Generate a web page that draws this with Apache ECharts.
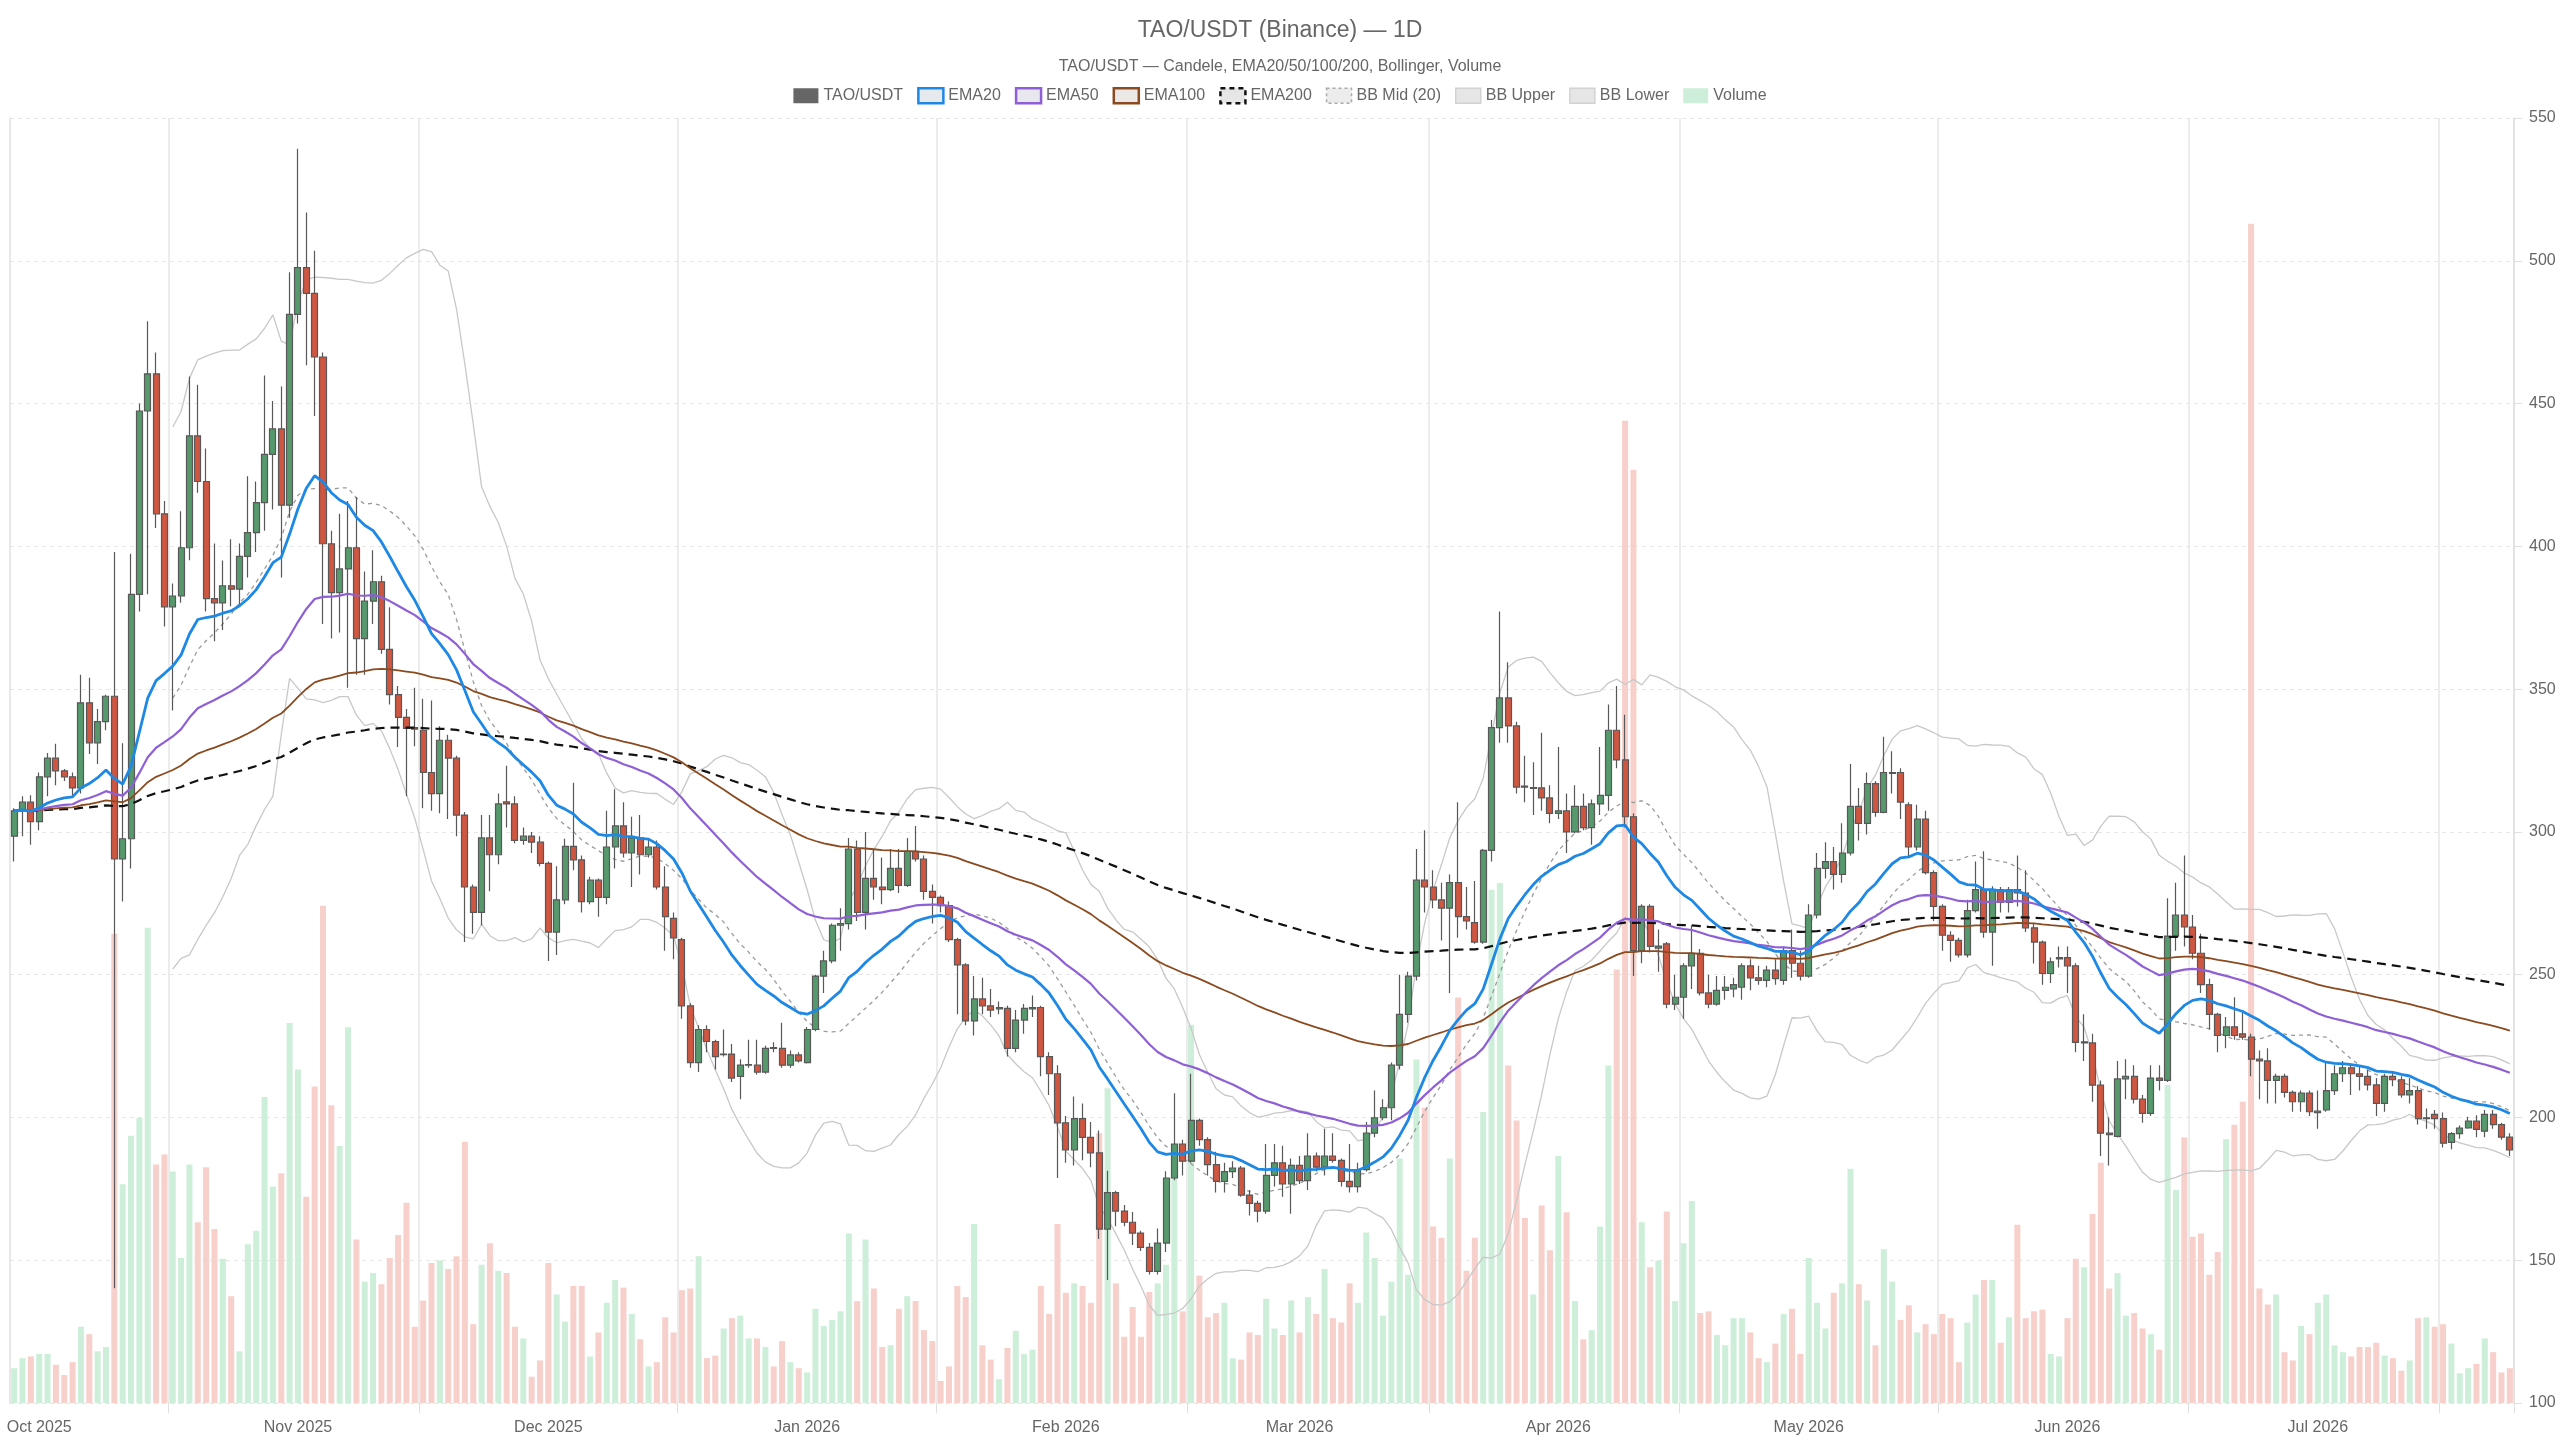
<!DOCTYPE html>
<html>
<head>
<meta charset="utf-8">
<title>TAO/USDT (Binance) — 1D</title>
<script src="https://cdn.jsdelivr.net/npm/echarts@6.0.0/dist/echarts.min.js"></script>
<style>
  html, body { margin: 0; padding: 0; background: #fff; }
  #chart { width: 2560px; height: 1440px; }
</style>
</head>
<body>
<div id="chart"></div>
<script>
// daily candles, 2025-09-28 .. 2026-07-24
var startDay = '2025-09-28';
var dayCount = 300;
var monthNames = ['Jan', 'Feb', 'Mar', 'Apr', 'May', 'Jun', 'Jul', 'Aug', 'Sep', 'Oct', 'Nov', 'Dec'];
// vertical grid lines / ticks sit on these days
var splitDays = ['2025-10-17', '2025-11-16', '2025-12-17', '2026-01-17', '2026-02-16',
                 '2026-03-17', '2026-04-16', '2026-05-17', '2026-06-16', '2026-07-16'];

var opens = [
298.5,307.4,310.4,303.6,319.3,325.8,321.4,319.3,315.4,345.2,
331.2,338.6,347.5,290.5,297.6,383.2,447.4,460.4,411.4,378.8,
382.6,399.5,438.7,422.7,381.7,380.2,386.2,385.0,396.5,404.8,
415.3,432.2,441.1,414.4,481.2,497.6,488.6,466.3,400.9,383.8,
392.1,399.5,367.7,380.8,387.6,363.9,348.1,340.1,336.5,335.6,
320.8,313.4,332.1,325.8,305.9,280.7,271.8,297.9,292.0,310.5,
309.8,297.0,298.5,296.4,289.0,264.9,276.2,294.9,290.2,275.6,
283.1,277.1,294.7,302.1,292.6,297.9,292.0,294.7,280.7,269.7,
262.3,239.1,219.2,230.8,226.6,222.0,222.2,214.4,218.3,218.3,
215.9,224.5,224.2,218.3,221.9,219.2,230.8,249.5,254.8,267.3,
267.9,294.0,271.8,283.7,280.7,279.8,287.2,281.3,293.2,290.5,
279.2,277.1,274.2,262.3,253.4,233.8,241.5,239.1,238.0,238.2,
224.2,234.1,238.0,238.5,221.3,215.3,198.1,188.6,199.6,193.0,
187.6,160.9,173.7,167.2,163.3,159.5,154.5,146.1,156.0,178.8,
190.7,184.7,199.0,192.2,183.5,177.6,181.0,182.3,172.8,169.9,
167.2,179.7,184.1,176.7,183.2,177.9,186.5,182.6,186.5,185.0,
177.6,175.8,181.7,194.5,199.9,203.4,218.3,236.1,249.5,283.1,
280.7,276.2,273.3,282.2,270.3,268.2,261.4,293.5,336.5,346.9,
337.1,316.0,315.2,315.4,311.9,306.5,307.4,300.0,308.9,301.5,
309.8,312.8,335.6,325.2,305.3,258.4,273.9,259.3,260.8,239.7,
242.1,253.1,257.5,243.6,239.7,244.5,245.0,245.6,253.1,248.9,
248.0,251.6,248.0,258.4,254.0,249.5,270.9,287.2,289.6,285.1,
292.6,308.9,303.0,316.9,306.8,320.5,320.8,309.5,294.7,304.5,
285.7,273.9,263.8,262.0,256.9,272.4,279.8,264.9,279.8,275.3,
279.8,278.6,266.4,261.4,250.4,255.5,256.0,253.1,226.1,226.1,
211.3,194.5,193.4,213.5,214.4,206.4,201.4,213.8,213.0,263.5,
270.9,266.7,257.5,246.5,236.1,228.7,231.7,229.3,228.1,220.4,
219.8,213.0,214.4,208.8,205.5,208.5,201.7,202.6,209.4,215.3,
217.4,215.3,214.4,211.4,204.9,214.4,213.2,207.9,209.4,199.6,
201.1,199.6,191.3,194.3,196.3,198.7,195.2,201.1,197.5,193.1
];
var closes = [
307.4,310.4,303.6,319.3,325.8,321.4,319.3,315.4,345.2,331.2,
338.6,347.5,290.5,297.6,383.2,447.4,460.4,411.4,378.8,382.6,
399.5,438.7,422.7,381.7,380.2,386.2,385.0,396.5,404.8,415.3,
432.2,441.1,414.4,481.2,497.6,488.6,466.3,400.9,383.8,392.1,
399.5,367.7,380.8,387.6,363.9,348.1,340.1,336.2,336.0,320.8,
313.4,332.1,325.8,305.9,280.7,271.8,297.9,292.0,309.8,309.8,
297.0,298.5,296.4,289.0,264.9,276.2,294.9,290.2,275.6,283.1,
277.1,294.7,302.1,292.6,297.9,292.0,294.7,280.7,270.3,262.9,
239.1,219.2,230.8,226.6,221.3,222.2,213.8,218.3,218.5,215.9,
224.2,224.2,218.3,221.9,219.8,230.8,249.5,254.8,267.3,267.9,
294.0,271.8,283.7,280.7,279.8,287.2,281.3,293.2,290.5,279.2,
277.1,274.2,262.3,253.4,233.8,241.5,239.1,237.6,238.5,224.2,
234.1,238.2,238.5,221.3,215.3,198.1,188.6,199.6,193.0,187.6,
160.9,173.7,167.2,163.3,159.5,154.5,146.1,156.0,178.8,190.7,
184.7,199.0,192.2,183.5,177.6,181.0,182.3,172.8,169.9,167.2,
179.7,184.1,176.7,183.2,177.9,186.5,182.6,186.5,185.0,177.6,
175.8,181.7,194.5,199.9,203.4,218.3,236.1,249.5,283.1,280.7,
276.2,273.3,282.2,270.3,268.8,261.4,293.5,336.5,346.9,337.1,
315.7,315.7,315.5,311.9,306.5,307.4,300.0,308.9,301.5,309.8,
312.8,335.6,325.2,305.3,258.4,273.9,259.9,260.0,239.7,242.1,
253.1,257.5,243.6,239.7,244.5,245.6,246.5,253.1,248.9,248.0,
251.6,248.6,258.4,254.0,249.5,270.9,287.2,289.6,285.1,292.6,
308.9,303.0,316.9,306.8,320.8,320.8,310.4,294.7,304.5,285.7,
273.9,263.8,262.0,256.9,272.4,279.8,264.9,279.8,275.3,279.8,
278.6,266.4,261.4,250.4,254.5,256.0,253.1,226.3,226.5,211.3,
194.5,194.0,213.5,214.4,206.4,201.4,213.8,213.0,263.5,270.9,
266.7,257.5,246.5,236.1,228.7,231.7,228.7,228.1,220.4,219.8,
213.0,214.4,208.8,205.5,208.5,202.0,202.2,209.4,215.3,217.4,
215.3,214.4,211.4,204.9,214.4,213.2,207.9,209.4,199.6,199.9,
199.6,191.0,194.3,196.3,198.7,195.8,201.1,197.5,193.1,188.6
];
var lows = [
289.6,298.5,295.5,300.6,312.5,316.3,317.8,312.5,313.4,327.3,
323.8,335.6,140.2,275.6,287.2,377.2,383.2,406.4,371.9,342.5,
380.2,395.1,418.8,377.2,366.8,370.7,379.0,379.6,389.1,398.0,
405.5,412.9,389.1,410.0,478.0,463.4,445.6,372.8,367.7,369.8,
350.5,355.0,355.0,372.8,362.4,344.6,329.7,312.5,330.0,308.3,
307.4,306.5,304.5,298.5,261.4,264.3,267.3,279.2,288.7,301.5,
296.0,295.5,292.6,288.0,254.8,256.9,274.7,286.6,271.8,274.7,
270.3,274.7,287.2,291.0,280.7,285.1,291.0,279.8,258.4,255.4,
234.6,217.4,215.9,222.8,216.8,221.3,212.4,206.4,217.4,215.0,
215.3,222.8,217.4,217.4,219.2,218.9,230.2,243.6,254.0,258.4,
265.8,268.8,265.8,276.2,274.7,279.2,278.6,280.7,289.6,276.2,
267.9,271.8,261.4,236.1,232.3,228.7,236.1,235.2,236.1,221.3,
222.8,229.3,235.2,214.4,207.9,178.8,184.1,183.2,185.0,182.6,
157.4,143.1,161.9,161.9,155.3,153.2,145.0,145.0,152.9,178.0,
179.7,184.1,190.1,179.7,173.7,173.7,178.8,172.2,165.7,163.3,
166.3,175.8,172.2,166.3,176.7,174.6,181.1,179.7,184.1,175.8,
173.7,173.7,181.1,193.1,199.0,199.0,216.8,233.2,248.0,271.8,
273.3,262.0,243.6,262.9,265.8,260.8,260.8,289.6,331.2,331.2,
313.4,310.4,305.9,307.4,303.0,304.5,292.6,299.5,300.6,295.5,
305.9,307.4,322.3,301.5,249.5,254.0,257.8,251.0,238.2,237.6,
234.6,245.0,242.7,238.2,239.1,241.2,242.1,241.2,244.5,246.5,
245.6,246.5,246.5,248.9,248.0,248.9,269.7,283.7,279.8,282.2,
291.7,297.0,299.1,305.3,306.5,313.4,304.5,291.0,293.5,285.1,
268.8,258.4,254.5,256.0,256.0,271.8,262.9,253.1,271.8,271.8,
273.9,264.9,253.9,246.5,247.1,252.5,243.6,222.8,219.8,205.5,
186.5,183.2,193.0,206.4,204.9,198.1,200.5,209.4,212.4,258.4,
259.9,255.4,243.6,230.8,222.8,224.2,227.2,227.2,214.4,206.4,
204.9,204.9,207.0,202.0,202.0,200.5,196.0,202.0,207.9,212.4,
207.9,209.4,209.4,200.5,202.0,210.9,206.9,204.9,197.5,196.0,
196.0,189.5,188.9,192.5,196.0,193.1,193.1,196.0,192.2,186.5
];
var highs = [
308.3,312.5,312.8,320.8,327.6,330.9,322.0,320.8,355.0,354.0,
343.0,348.0,398.0,331.0,397.4,450.0,478.8,467.9,415.9,387.0,
412.3,459.5,456.6,434.3,401.0,395.0,402.5,401.0,424.5,422.7,
459.8,450.9,456.0,496.0,539.2,516.9,503.5,467.9,405.5,411.4,
415.9,417.3,391.2,398.6,389.7,378.7,351.1,343.0,350.5,346.6,
346.0,337.0,334.0,326.7,307.0,281.6,305.9,305.9,313.4,323.2,
312.5,301.5,300.0,298.5,289.6,288.0,297.6,317.2,291.7,284.3,
283.7,307.4,314.9,310.4,305.3,305.9,297.6,297.0,288.0,271.8,
262.9,240.0,232.3,232.3,227.2,230.8,225.7,220.4,227.2,227.2,
225.1,226.3,233.2,223.4,222.8,231.7,250.0,258.4,267.9,273.3,
297.9,297.0,300.0,294.0,291.0,294.0,294.0,297.9,302.1,291.7,
281.6,277.7,275.6,262.9,254.0,249.5,248.9,245.0,240.6,239.1,
237.6,239.7,242.7,239.1,222.8,218.3,200.5,207.3,204.9,198.4,
195.4,181.3,174.3,169.3,166.9,160.3,156.0,161.1,181.2,208.5,
192.2,215.3,199.6,193.1,188.0,184.1,184.7,183.0,174.6,170.8,
190.7,190.7,190.1,185.6,186.5,194.5,187.7,196.0,194.5,185.6,
190.7,184.1,198.4,209.4,206.4,219.2,250.0,251.0,294.0,300.6,
286.6,282.2,285.1,310.4,280.7,282.8,294.0,339.2,377.2,359.4,
338.6,326.7,324.4,334.7,316.3,329.7,313.4,316.3,313.4,311.3,
329.7,344.6,351.1,341.0,306.5,274.7,274.7,265.8,261.4,250.0,
254.0,267.3,259.0,250.0,249.5,249.5,248.9,254.0,255.4,253.1,
253.1,255.4,259.9,265.8,258.4,274.7,292.6,296.4,294.7,303.0,
323.8,315.4,320.8,317.8,333.3,328.2,322.3,310.4,309.5,307.4,
286.6,274.7,265.2,262.9,276.2,289.6,293.2,281.0,280.7,280.7,
291.7,286.6,267.9,262.0,256.0,259.9,259.9,254.0,236.1,229.3,
212.9,200.0,219.8,220.4,218.3,207.9,218.3,218.3,276.8,282.2,
291.7,270.9,264.3,248.6,236.7,235.2,242.1,236.7,229.3,223.4,
224.2,215.3,215.3,209.4,209.4,209.4,209.4,219.8,218.3,219.8,
218.3,218.3,216.8,213.8,215.3,215.9,214.4,213.8,210.9,203.1,
202.6,201.7,194.9,197.2,200.2,200.8,202.6,202.6,198.1,194.5
];
// volume, thousand TAO
var volumes = [
12.2,15.7,16.3,17.2,17.2,13.4,9.8,14.3,26.7,24.1,
18.1,19.6,164.3,76.6,93.6,99.8,166.4,83.5,87.0,81.1,
50.8,83.5,63.3,82.6,60.9,50.5,37.4,18.1,55.6,60.3,
107.2,75.8,80.5,133.1,116.8,72.2,110.8,174.1,104.3,90.0,
131.6,57.3,42.5,45.5,41.6,50.8,58.8,70.1,26.7,35.9,
49.0,49.9,46.9,51.4,91.5,27.6,48.4,55.9,46.3,45.5,
26.7,22.6,9.2,14.9,49.0,38.0,28.5,41.0,41.0,16.3,
24.7,35.1,43.1,40.4,31.2,22.3,12.8,14.3,30.0,24.7,
39.5,40.1,51.4,15.7,16.6,26.1,29.7,30.6,22.6,22.6,
19.6,12.8,21.7,14.3,12.2,10.7,33.0,27.0,29.1,32.1,
59.4,35.7,57.3,40.1,19.6,20.2,33.0,37.4,35.7,25.5,
21.7,7.7,12.8,41.0,37.1,62.7,20.2,15.2,8.3,19.3,
25.3,17.2,18.7,41.0,31.2,62.7,38.6,41.9,41.0,35.1,
94.5,110.2,41.9,23.2,33.6,23.2,38.9,41.9,48.4,81.1,
32.1,132.5,44.6,30.0,31.5,35.1,15.7,15.2,24.7,23.8,
36.5,26.1,23.8,35.9,24.7,37.1,31.2,46.9,29.7,28.2,
41.9,35.1,59.7,50.8,30.6,42.5,85.6,44.9,120.3,103.4,
61.8,57.9,85.6,142.0,46.3,57.9,101.9,179.7,182.1,118.2,
98.9,64.8,38.0,69.2,53.5,86.5,66.8,35.7,22.3,25.5,
61.8,118.2,151.8,344.0,326.8,63.3,47.5,49.9,67.1,35.7,
55.9,70.7,31.5,32.1,23.8,20.2,29.7,29.7,24.7,15.7,
14.3,20.8,31.2,33.0,17.2,50.8,35.1,26.1,38.6,41.9,
82.0,41.6,35.9,20.2,53.8,42.5,29.1,34.2,24.7,27.6,
24.1,31.2,29.7,14.3,28.2,38.0,43.1,43.1,21.1,30.0,
62.4,29.7,32.1,32.7,17.2,16.3,29.7,50.5,47.5,66.2,
84.1,40.1,45.5,30.6,31.5,26.1,24.1,18.7,111.4,74.6,
93.0,58.2,59.4,44.9,52.9,92.4,97.4,105.5,413.0,40.1,
34.5,38.0,17.8,14.9,27.0,24.1,35.1,38.0,20.2,17.8,
16.3,19.6,19.6,21.1,16.6,15.7,11.3,14.9,29.7,30.0,
26.7,27.6,20.8,10.4,12.2,13.7,22.6,17.8,10.7,12.2
];

var upColor = '#55996c';
var downColor = '#cf5640';
var upVolColor = '#cdefd9';
var downVolColor = '#f8d0cb';

function makeDates(first, n) {
    var out = [], t = Date.parse(first + 'T00:00:00Z'), i;
    for (i = 0; i < n; i++) {
        out.push(new Date(t + i * 86400000).toISOString().slice(0, 10));
    }
    return out;
}

// EMA seeded with the first close
function ema(src, n) {
    var k = 2 / (n + 1), out = [], prev;
    src.forEach(function (v, i) {
        prev = i === 0 ? v : v * k + prev * (1 - k);
        out.push(+prev.toFixed(3));
    });
    return out;
}

function bollinger(src, n, mult) {
    var mid = [], up = [], low = [], i, j, m, s;
    for (i = 0; i < src.length; i++) {
        if (i < n - 1) { mid.push('-'); up.push('-'); low.push('-'); continue; }
        m = 0;
        for (j = i - n + 1; j <= i; j++) m += src[j];
        m /= n;
        s = 0;
        for (j = i - n + 1; j <= i; j++) s += (src[j] - m) * (src[j] - m);
        s = Math.sqrt(s / n);
        mid.push(+m.toFixed(3)); up.push(+(m + mult * s).toFixed(3)); low.push(+(m - mult * s).toFixed(3));
    }
    return { mid: mid, up: up, low: low };
}

var dates = makeDates(startDay, dayCount);
var candles = dates.map(function (d, i) { return [opens[i], closes[i], lows[i], highs[i]]; });
var bb = bollinger(closes, 20, 2);
var font = 'Liberation Sans, Arial, sans-serif';

function isSplitDay(idx, val) { return splitDays.indexOf(val) >= 0; }

function lineSeries(name, data, color, width, type, z) {
    return {
        name: name, type: 'line', data: data, symbol: 'none', showSymbol: false,
        xAxisIndex: 0, yAxisIndex: 0, z: z || 4, silent: true,
        lineStyle: { color: color, width: width, type: type || 'solid' }
    };
}

var chart = echarts.init(document.getElementById('chart'));
chart.setOption({
    animation: false,
    backgroundColor: '#fff',
    textStyle: { fontFamily: font },
    title: [{
        text: 'TAO/USDT (Binance) — 1D', left: 'center', top: 14,
        textStyle: { color: '#666', fontSize: 23, fontWeight: 'normal', fontFamily: font }
    }, {
        text: 'TAO/USDT — Candele, EMA20/50/100/200, Bollinger, Volume', left: 'center', top: 54,
        textStyle: { color: '#666', fontSize: 16, fontWeight: 'normal', fontFamily: font }
    }],
    legend: {
        top: 82, left: 'center', icon: 'rect', itemWidth: 25, itemHeight: 15, itemGap: 14,
        textStyle: { color: '#666', fontSize: 16, fontFamily: font },
        data: [
            { name: 'TAO/USDT', itemStyle: { color: '#666', borderWidth: 0 } },
            { name: 'EMA20', itemStyle: { color: '#e6e9ee', borderColor: '#1e88e5', borderWidth: 2.5 } },
            { name: 'EMA50', itemStyle: { color: '#e8e6ee', borderColor: '#8e5fd6', borderWidth: 2.5 } },
            { name: 'EMA100', itemStyle: { color: '#ebe8e6', borderColor: '#8b4a1f', borderWidth: 2.5 } },
            { name: 'EMA200', itemStyle: { color: '#e6e6e6', borderColor: '#111', borderWidth: 2.5, borderType: [5, 4] } },
            { name: 'BB Mid (20)', itemStyle: { color: '#ececec', borderColor: '#aaa', borderWidth: 1.5, borderType: [3, 3] } },
            { name: 'BB Upper', itemStyle: { color: '#e6e6e6', borderColor: '#d2d2d2', borderWidth: 1.5 } },
            { name: 'BB Lower', itemStyle: { color: '#e6e6e6', borderColor: '#d2d2d2', borderWidth: 1.5 } },
            { name: 'Volume', itemStyle: { color: upVolColor, borderWidth: 0 } }
        ]
    },
    grid: { left: 10, right: 46, top: 118, bottom: 37, containLabel: false },
    xAxis: [{
        type: 'category', data: dates, boundaryGap: true,
        axisLine: { show: false },
        axisTick: { show: true, interval: isSplitDay, length: 10, lineStyle: { color: '#e0e0e0' } },
        splitLine: { show: true, interval: isSplitDay, lineStyle: { color: '#e6e6e6', width: 1.5 } },
        axisLabel: {
            interval: function (idx, val) { return val.slice(8) === '01'; },
            formatter: function (val) {
                return monthNames[parseInt(val.slice(5, 7), 10) - 1] + ' ' + val.slice(0, 4);
            },
            color: '#666', fontSize: 16, margin: 17, fontFamily: font
        }
    }],
    yAxis: [{
        type: 'value', position: 'right', min: 100, max: 550, interval: 50,
        axisLine: { show: true, lineStyle: { color: '#e0e0e0', width: 1.5 } },
        axisTick: { show: true, length: 8, lineStyle: { color: '#e0e0e0' } },
        splitLine: { show: true, lineStyle: { color: '#e6e6e6', type: [4, 4] } },
        axisLabel: { color: '#666', fontSize: 16, margin: 15, fontFamily: font }
    }, {
        type: 'value', position: 'left', min: 0, max: 450,
        axisLine: { show: true, lineStyle: { color: '#e0e0e0', width: 1.5 } },
        axisTick: { show: false }, axisLabel: { show: false }, splitLine: { show: false }
    }],
    series: [
        {
            name: 'Volume', type: 'bar', data: volumes, xAxisIndex: 0, yAxisIndex: 1,
            barWidth: '72%', z: 1, silent: true,
            itemStyle: {
                color: function (p) {
                    return closes[p.dataIndex] >= opens[p.dataIndex] ? upVolColor : downVolColor;
                }
            }
        },
        lineSeries('BB Upper', bb.up, '#c8c8c8', 1.3, 'solid', 2),
        lineSeries('BB Lower', bb.low, '#c8c8c8', 1.3, 'solid', 2),
        lineSeries('BB Mid (20)', bb.mid, '#9a9a9a', 1.3, [4, 4], 2),
        {
            name: 'TAO/USDT', type: 'candlestick', data: candles, xAxisIndex: 0, yAxisIndex: 0,
            barWidth: '78%', z: 3, silent: true,
            itemStyle: {
                color: upColor, color0: downColor,
                borderColor: '#585858', borderColor0: '#585858', borderWidth: 1.2
            }
        },
        lineSeries('EMA200', ema(closes, 200), '#111', 2.2, [9, 6], 5),
        lineSeries('EMA100', ema(closes, 100), '#8b4a1f', 1.8, 'solid', 5),
        lineSeries('EMA50', ema(closes, 50), '#8e5fd6', 2.2, 'solid', 5),
        lineSeries('EMA20', ema(closes, 20), '#1e88e5', 2.8, 'solid', 6)
    ]
});
</script>
</body>
</html>
